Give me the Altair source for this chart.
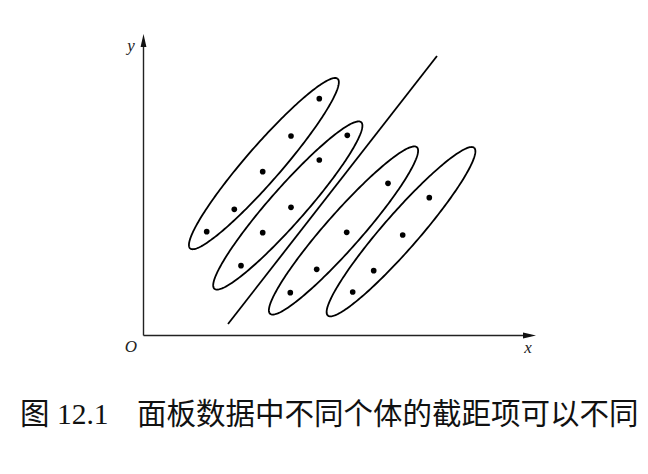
import altair as alt
import numpy as np
import pandas as pd

# ---- data (units: origin O at (0,0)) ----
pt_group = [1]*5 + [2]*5 + [3]*4 + [4]*4
pt_x = [63.2, 90.8, 119.2, 147.5, 175.8,
        97.5, 119.2, 147.5, 175.8, 203.8,
        146.8, 173.2, 203.2, 244.5,
        209.2, 230.2, 259.2, 285.8]
pt_y = [103.8, 126.2, 163.8, 199.5, 236.8,
        69.8, 102.8, 128.2, 175.5, 200.2,
        42.8, 66.2, 103.2, 152.2,
        43.5, 64.8, 100.5, 137.8]

# ellipse parameters: centre, semi-axes, rotation (deg)
ell_id = [1, 2, 3, 4]
ell_cx = [120.4, 144.3, 200.0, 257.5]
ell_cy = [171.9, 130.0, 105.0, 103.8]
ell_a = [112.4, 111.0, 111.0, 111.3]
ell_b = [17.8, 17.8, 17.8, 17.8]
ell_ang = [49.0, 48.6, 48.6, 48.9]

# common regression line
line_x = [84.5, 293.5]
line_y = [11.5, 279.5]

# axes extents
x_axis_end = 387.0
y_axis_end = 290.0

caption_fig = "图 12.1"
caption_text = "面板数据中不同个体的截距项可以不同"

# ---- build tables ----
rows = []
t = np.linspace(0, 2*np.pi, 241)
for i, cx, cy, a, b, ang in zip(ell_id, ell_cx, ell_cy, ell_a, ell_b, ell_ang):
    th = np.deg2rad(ang)
    ex = cx + a*np.cos(t)*np.cos(th) - b*np.sin(t)*np.sin(th)
    ey = cy + a*np.cos(t)*np.sin(th) + b*np.sin(t)*np.cos(th)
    for k in range(len(t)):
        rows.append({"id": i, "k": k, "x": ex[k], "y": ey[k]})
ell_df = pd.DataFrame(rows)
pts_df = pd.DataFrame({"g": pt_group, "x": pt_x, "y": pt_y})

W, H = 648, 474
xs = alt.Scale(domain=[-143.5, W - 143.5], nice=False, zero=False)
ys = alt.Scale(domain=[335.5 - H, 335.5], nice=False, zero=False)

def X(f="x"):
    return alt.X(f"{f}:Q", scale=xs, axis=None)

def Y(f="y"):
    return alt.Y(f"{f}:Q", scale=ys, axis=None)

axes_df = pd.DataFrame({"x": [0, 0], "y": [0, 0], "x2": [x_axis_end, 0], "y2": [0, y_axis_end]})
axes = alt.Chart(axes_df).mark_rule(color="#222", strokeWidth=1.4).encode(
    x=X(), y=Y(), x2="x2:Q", y2="y2:Q")

arrow_r = alt.Chart(pd.DataFrame({"x": [x_axis_end - 1], "y": [0]})).mark_point(
    shape="M 1 0 L -1 -0.45 L -1 0.45 Z", size=169, filled=True, color="#111", opacity=1
).encode(x=X(), y=Y())
arrow_u = alt.Chart(pd.DataFrame({"x": [0], "y": [y_axis_end + 5]})).mark_point(
    shape="M 0 -1 L -0.45 1 L 0.45 1 Z", size=169, filled=True, color="#111", opacity=1
).encode(x=X(), y=Y())

reg = alt.Chart(pd.DataFrame({"x": [line_x[0]], "y": [line_y[0]], "x2": [line_x[1]], "y2": [line_y[1]]})).mark_rule(
    color="black", strokeWidth=1.8).encode(x=X(), y=Y(), x2="x2:Q", y2="y2:Q")

ells = alt.Chart(ell_df).mark_line(color="black", strokeWidth=1.8).encode(
    x=X(), y=Y(), detail="id:N", order="k:Q")

pts = alt.Chart(pts_df).mark_circle(color="black", size=32, opacity=1).encode(x=X(), y=Y())

lab_df = pd.DataFrame({"x": [-12.5, -12.5, 384.5], "y": [289.5, -11.5, -12.5], "t": ["y", "O", "x"]})
labels = alt.Chart(lab_df).mark_text(font="Liberation Serif", fontStyle="italic", fontSize=17,
                                     color="#222", baseline="middle", align="center").encode(
    x=X(), y=Y(), text="t:N")

cap_df = pd.DataFrame({"x": [-123.5, -6.5], "y": [-79.0, -79.0], "t": [caption_fig, caption_text]})
caption = alt.Chart(cap_df).mark_text(font="Liberation Serif, Noto Sans CJK SC", fontSize=29.5,
                                      color="#111", baseline="middle", align="left").encode(
    x=X(), y=Y(), text="t:N")

chart = alt.layer(axes, arrow_r, arrow_u, reg, ells, pts, labels, caption).properties(
    width=W, height=H, padding=0, autosize=alt.AutoSizeParams(type="none"), background="white"
).configure_view(stroke=None)

chart.save("out.html", embed_options={"renderer": "svg", "actions": False})
